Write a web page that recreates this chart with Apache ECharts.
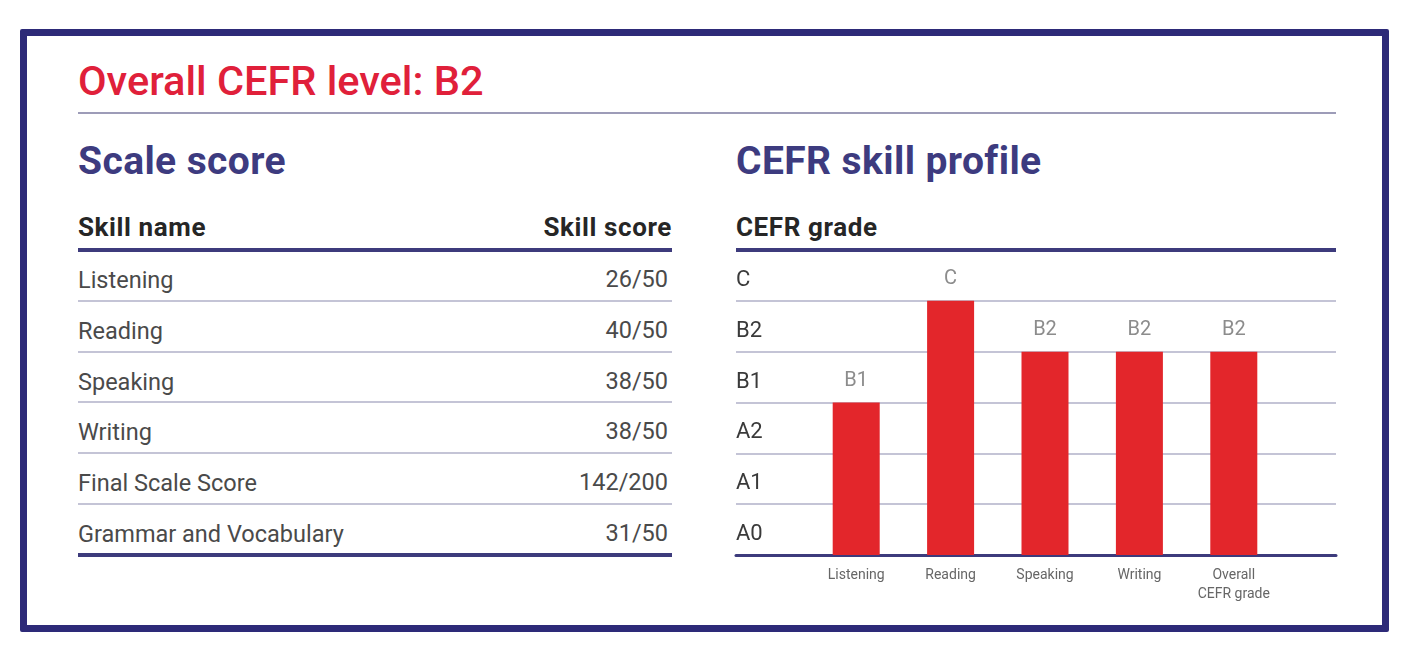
<!DOCTYPE html>
<html>
<head>
<meta charset="utf-8">
<script src="https://cdn.jsdelivr.net/npm/echarts@6/dist/echarts.min.js"></script>
<style>
  html, body { margin: 0; padding: 0; background: #fff; }
  body { width: 1424px; height: 652px; position: relative; overflow: hidden; font-family: Roboto, "Noto Sans", sans-serif; }
  .abs { position: absolute; white-space: nowrap; }
  .card { position: absolute; left: 20px; top: 29px; width: 1369px; height: 603px; box-sizing: border-box; border: 7px solid #2d2a78; border-radius: 2px; }
  .title { left: 78px; top: 60px; font-size: 41.5px; line-height: 41.5px; font-weight: 500; color: #e0203a; }
  .h2 { top: 142px; font-size: 39px; line-height: 39px; font-weight: 700; color: #3d3b7f; letter-spacing: 0.4px; }
  .h3 { top: 214px; font-size: 26px; line-height: 26px; font-weight: 700; color: #262626; letter-spacing: 0.6px; }
  .cell { font-size: 23.5px; line-height: 23.5px; color: #4a4a4a; }
  .thin { height: 2px; background: #c4c4d6; }
  .thick { height: 4px; background: #3d3b7c; z-index: 2; }
  #chart { position: absolute; left: 0; top: 0; width: 1424px; height: 652px; z-index: 1; }
</style>
</head>
<body>
<div class="card"></div>
<div class="abs title">Overall CEFR level: B2</div>
<div class="abs" style="left:78px;top:112px;width:1258px;height:2px;background:#9d9cb8"></div>
<div class="abs h2" style="left:78px">Scale score</div>
<div class="abs h2" style="left:736px">CEFR skill profile</div>
<div class="abs h3" style="left:78px">Skill name</div>
<div class="abs h3" style="right:752px">Skill score</div>
<div class="abs h3" style="left:736px">CEFR grade</div>
<div id="table"></div>
<div id="chart"></div>
<div class="abs thick" style="left:78px;top:248px;width:594px"></div>
<div class="abs thick" style="left:736px;top:248px;width:600px"></div>
<script>
// scale score table
const skillNames = ['Listening', 'Reading', 'Speaking', 'Writing', 'Final Scale Score', 'Grammar and Vocabulary'];
const skillScores = ['26/50', '40/50', '38/50', '38/50', '142/200', '31/50'];

// CEFR skill profile
const cefrLevels = ['A0', 'A1', 'A2', 'B1', 'B2', 'C'];
const profileSkills = ['Listening', 'Reading', 'Speaking', 'Writing', 'Overall\nCEFR grade'];
const profileGrades = ['B1', 'C', 'B2', 'B2', 'B2'];
const profileValues = [3, 5, 4, 4, 4];

const rowTop = 250, rowH = 50.75;
let html = '';
for (let i = 0; i < skillNames.length; i++) {
    let t = rowTop + rowH * i;
    html += '<div class="abs cell" style="left:78px;top:' + (t + 19) + 'px">' + skillNames[i] + '</div>';
    html += '<div class="abs cell" style="right:756px;top:' + (t + 18) + 'px">' + skillScores[i] + '</div>';
    if (i < skillNames.length - 1) {
        html += '<div class="abs thin" style="left:78px;width:594px;top:' + (t + rowH - 1) + 'px"></div>';
    } else {
        html += '<div class="abs thick" style="left:78px;width:594px;top:' + (t + rowH - 2) + 'px"></div>';
    }
}
document.getElementById('table').innerHTML = html;

const chart = echarts.init(document.getElementById('chart'));
chart.setOption({
    animation: false,
    grid: [
        {left: 736, right: 88, top: 250, bottom: 97},
        {left: 809, right: 143, top: 250, bottom: 97}
    ],
    xAxis: [
        {
            gridIndex: 0, type: 'value', min: 0, max: 1,
            axisLine: {show: true, lineStyle: {color: '#3d3b7c', width: 3}},
            axisTick: {show: false}, axisLabel: {show: false}, splitLine: {show: false}
        },
        {
            gridIndex: 1, type: 'category', data: profileSkills,
            axisLine: {show: false}, axisTick: {show: false}, splitLine: {show: false},
            axisLabel: {color: '#666', fontSize: 14, lineHeight: 19, margin: 11, interval: 0, fontFamily: 'Roboto'}
        }
    ],
    yAxis: [
        {
            gridIndex: 0, type: 'value', min: 0, max: 6, interval: 1, position: 'left',
            axisLine: {show: false}, axisTick: {show: false}, axisLabel: {show: false},
            splitLine: {lineStyle: {color: '#c4c4d6', width: 2}}
        },
        {
            gridIndex: 0, type: 'category', data: cefrLevels, position: 'left', offset: 0,
            axisLine: {show: false}, axisTick: {show: false}, splitLine: {show: false},
            axisLabel: {inside: true, margin: 0, color: '#3a3a3a', fontSize: 22, fontFamily: 'Roboto', verticalAlign: 'top', lineHeight: 10}
        },
        {
            gridIndex: 1, type: 'value', min: 0, max: 6, interval: 1, show: false
        }
    ],
    series: [{
        type: 'bar',
        xAxisIndex: 1,
        yAxisIndex: 2,
        data: profileValues,
        barWidth: 47,
        itemStyle: {color: '#e3262b'},
        label: {
            show: true,
            position: 'top',
            distance: 12,
            color: '#8c8c8c',
            fontSize: 20,
            fontFamily: 'Roboto',
            formatter: function (p) { return profileGrades[p.dataIndex]; }
        }
    }]
});
</script>
</body>
</html>
